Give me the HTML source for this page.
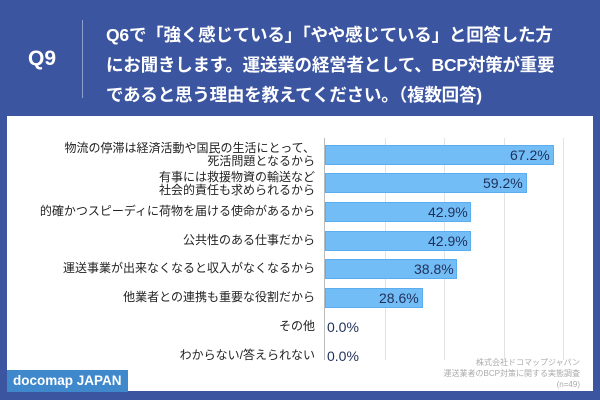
<!DOCTYPE html>
<html><head><meta charset="utf-8"><style>
body{margin:0;width:600px;height:400px;background:#3b55a0;position:relative;overflow:hidden;font-family:"Liberation Sans","Noto Sans CJK JP",sans-serif}
.q{position:absolute;left:28px;top:47px;color:#fff;font-size:21px;font-weight:bold}
.vl{position:absolute;left:82px;top:20px;width:1px;height:78px;background:#8fa0cf}
.h{position:absolute;left:106px;top:20px;color:#fff;font-size:17.5px;font-weight:bold;line-height:30px;white-space:nowrap;letter-spacing:-0.2px}
.panel{position:absolute;left:7px;top:116px;width:586px;height:275px;background:#fff}
.g{position:absolute;top:138px;width:1px;height:222px;background:#e2e2e2}
.ax{position:absolute;left:324px;top:138px;width:1px;height:222px;background:#bbb}
.bar{position:absolute;left:325px;height:20px;background:#73bdf6;border:1px solid #5aaef0;box-sizing:border-box}
.v{position:absolute;font-size:14px;color:#1e2f5a;line-height:20px}
.l{position:absolute;right:285px;font-size:12px;color:#222;text-align:right;line-height:13px;white-space:nowrap}
.src{position:absolute;right:20px;top:357px;font-size:8px;color:#aaa;text-align:right;line-height:11px}
.logo{position:absolute;left:7px;top:370px;width:121px;height:22px;background:#3f88cc;color:#fff;font-weight:bold;font-size:13.5px;line-height:22px;text-indent:6px}
</style></head><body>
<div class="q">Q9</div><div class="vl"></div>
<div class="h">Q6で「強く感じている」「やや感じている」と回答した方<br>にお聞きします。運送業の経営者として、BCP対策が重要<br>であると思う理由を教えてください。（複数回答)</div>
<div class="panel"></div>
<div class="g" style="left:385px"></div><div class="g" style="left:444px"></div><div class="g" style="left:504px"></div><div class="g" style="left:563px"></div>
<div class="ax"></div>
<div class="bar" style="top:145px;width:229px"></div><div class="v" style="top:145px;left:510px">67.2%</div>
<div class="bar" style="top:173px;width:202px"></div><div class="v" style="top:173px;left:483px">59.2%</div>
<div class="bar" style="top:202px;width:146px"></div><div class="v" style="top:202px;left:428px">42.9%</div>
<div class="bar" style="top:231px;width:146px"></div><div class="v" style="top:231px;left:428px">42.9%</div>
<div class="bar" style="top:259px;width:132px"></div><div class="v" style="top:259px;left:414px">38.8%</div>
<div class="bar" style="top:288px;width:98px"></div><div class="v" style="top:288px;left:379px">28.6%</div>
<div class="v" style="top:317px;left:327px">0.0%</div>
<div class="v" style="top:346px;left:327px">0.0%</div>
<div class="l" style="top:142px">物流の停滞は経済活動や国民の生活にとって、<br>死活問題となるから</div>
<div class="l" style="top:171px">有事には救援物資の輸送など<br>社会的責任も求められるから</div>
<div class="l" style="top:205px">的確かつスピーディに荷物を届ける使命があるから</div>
<div class="l" style="top:234px">公共性のある仕事だから</div>
<div class="l" style="top:262px">運送事業が出来なくなると収入がなくなるから</div>
<div class="l" style="top:291px">他業者との連携も重要な役割だから</div>
<div class="l" style="top:320px">その他</div>
<div class="l" style="top:349px">わからない/答えられない</div>
<div class="src">株式会社ドコマップジャパン<br>運送業者のBCP対策に関する実態調査<br>(n=49)</div>
<div class="logo">docomap JAPAN</div>
</body></html>
